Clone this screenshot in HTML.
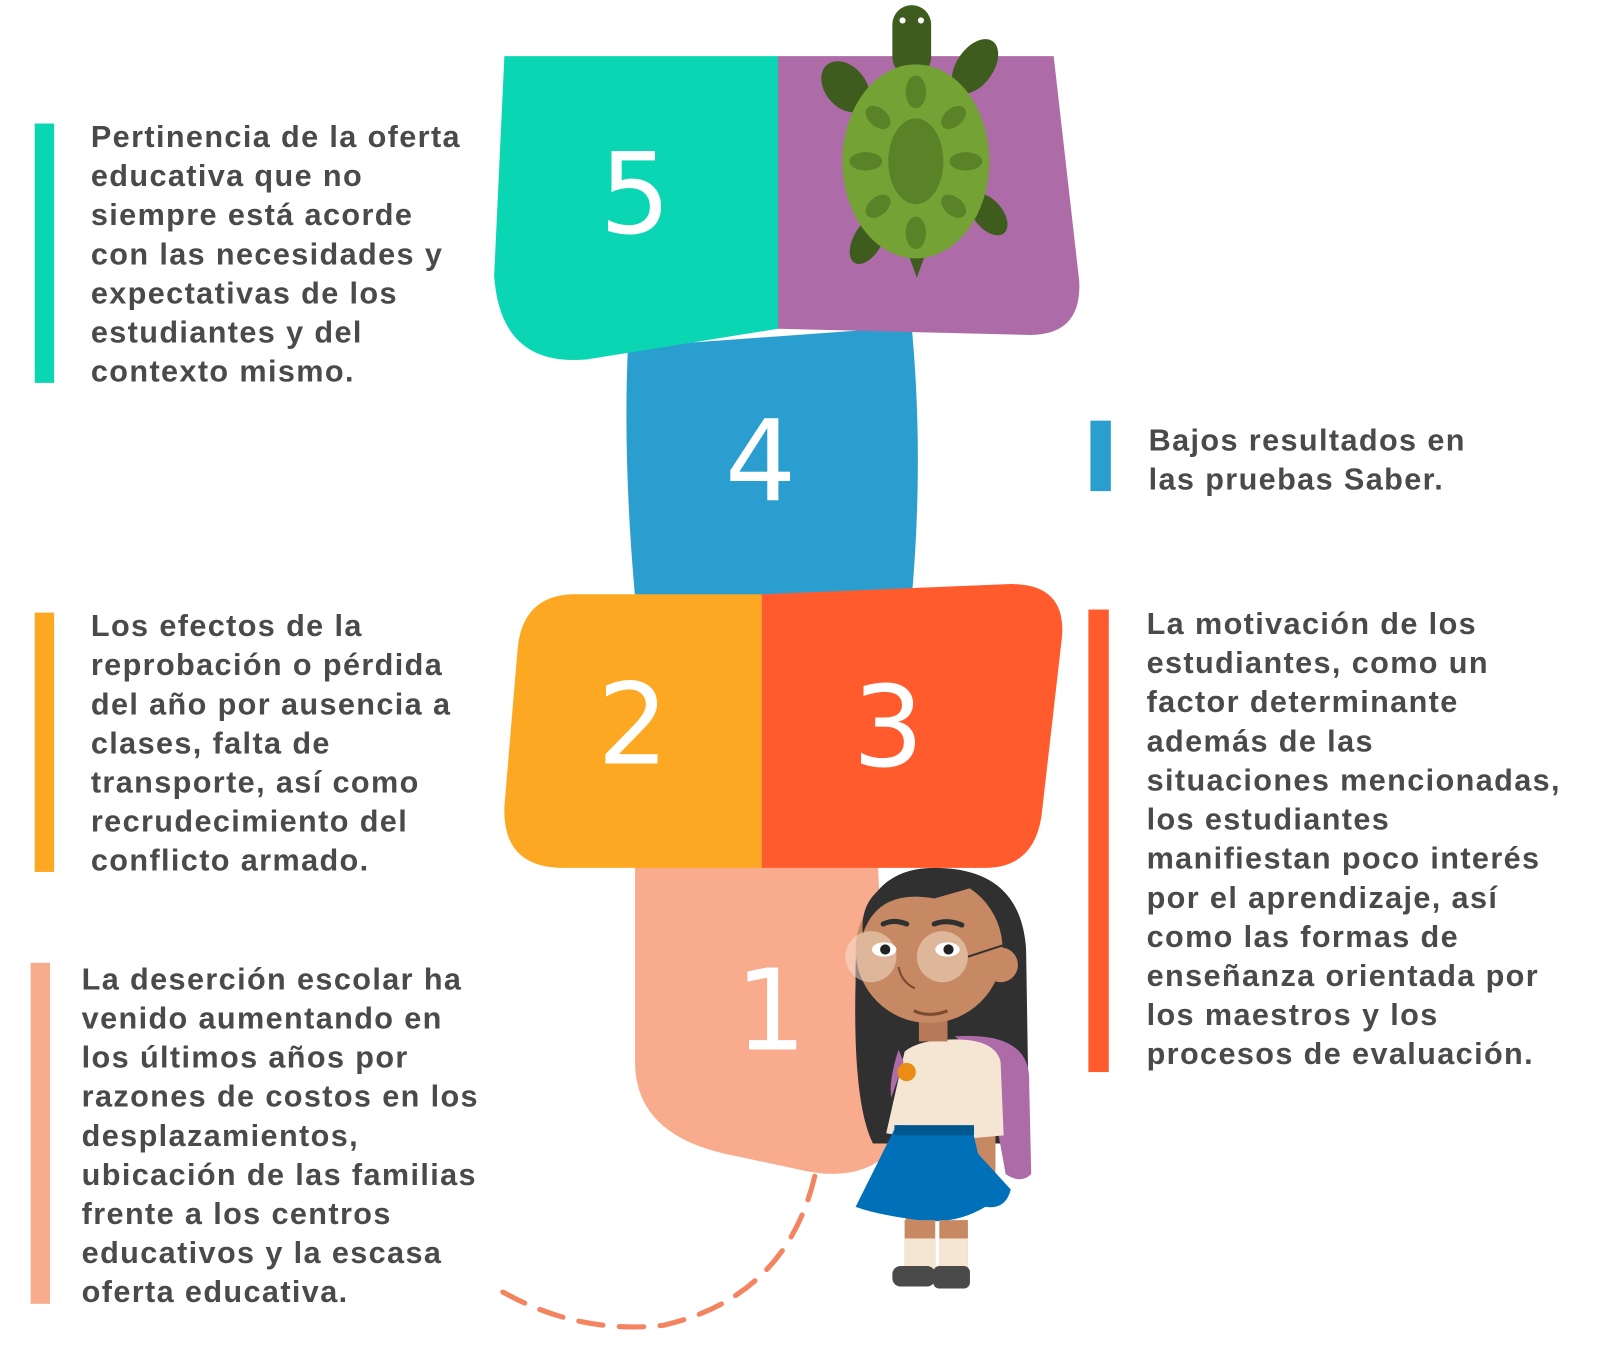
<!DOCTYPE html>
<html><head><meta charset="utf-8"><style>
html,body{margin:0;padding:0;background:#fff;}
svg{display:block}
text{font-family:"Liberation Sans",sans-serif;font-weight:bold;font-size:30px;letter-spacing:1.35px;fill:#4a4a4a;}
.num{font-family:"DejaVu Sans",sans-serif;font-weight:normal;font-size:110px;letter-spacing:0;fill:#fff;}
</style></head><body>
<svg width="1600" height="1347" viewBox="0 0 1600 1347" xmlns="http://www.w3.org/2000/svg">
<g transform="scale(1.021)">
<path d="M615,340 L893,320 Q905,450 893,585 L622,585 Q610,450 615,340Z" fill="#2a9fcf"/>
<path d="M494,55 L762,55 L762,322 L575,352 Q490,360 484,270 Z" fill="#0bd6b4"/>
<path d="M762,55 L1032,55 L1057,275 Q1060,330 1005,328 L762,322 Z" fill="#ad6ca8"/>
<path d="M622,848 L860,848 L872,1128 Q840,1160 780,1145 L710,1130 Q622,1110 622,1040 Z" fill="#f9ab8e"/>
<path d="M746,582 L746,850 L548,850 Q492,848 494,790 L507,635 Q512,584 560,582 Z" fill="#fda823"/>
<path d="M746,582 L990,572 Q1045,572 1040,625 L1020,800 Q1012,850 965,850 L746,850 Z" fill="#ff5b2d"/>
<text class="num" x="622" y="228" text-anchor="middle">5</text>
<text class="num" x="745" y="490" text-anchor="middle">4</text>
<text class="num" x="620" y="748" text-anchor="middle">2</text>
<text class="num" x="870" y="750" text-anchor="middle">3</text>
<text class="num" x="755" y="1028" text-anchor="middle">1</text>
<path d="M798,1152 Q770,1270 650,1298 Q560,1308 480,1258" fill="none" stroke="#f4845f" stroke-width="5" stroke-dasharray="24,16" stroke-linecap="round"/>
<g fill="#3e5c1e">
<rect x="874" y="5" width="38" height="70" rx="19"/>
<ellipse cx="828" cy="85" rx="20" ry="28" transform="rotate(-40 828 85)"/>
<ellipse cx="955" cy="65" rx="18" ry="30" transform="rotate(35 955 65)"/>
<ellipse cx="850" cy="235" rx="14" ry="26" transform="rotate(30 850 235)"/>
<ellipse cx="968" cy="210" rx="14" ry="24" transform="rotate(-40 968 210)"/>
<path d="M890,250 L898,272 L906,250Z"/>
</g>
<circle cx="884" cy="20" r="3" fill="#fff"/><circle cx="902" cy="20" r="3" fill="#fff"/>
<ellipse cx="897" cy="158" rx="72" ry="95" fill="#75a234"/>
<ellipse cx="897" cy="158" rx="27" ry="42" fill="#5a8328"/>
<g fill="#5a8328">
<ellipse cx="897" cy="90" rx="10" ry="16"/><ellipse cx="897" cy="228" rx="10" ry="16"/>
<ellipse cx="848" cy="158" rx="16" ry="9"/><ellipse cx="946" cy="158" rx="16" ry="9"/>
<ellipse cx="860" cy="115" rx="14" ry="9" transform="rotate(40 860 115)"/><ellipse cx="934" cy="115" rx="14" ry="9" transform="rotate(-40 934 115)"/>
<ellipse cx="860" cy="202" rx="14" ry="9" transform="rotate(-40 860 202)"/><ellipse cx="934" cy="202" rx="14" ry="9" transform="rotate(40 934 202)"/>
</g>
<path d="M855,1120 Q835,1080 838,960 Q835,850 915,850 Q1000,850 1005,930 L1008,1120 Z" fill="#303030"/>
<path d="M935,1015 Q1010,1010 1008,1060 L1010,1150 Q1000,1160 985,1150 L965,1040Z" fill="#ad6ca8"/>
<rect x="887" y="1115" width="28" height="100" fill="#c68963"/>
<rect x="945" y="1060" width="30" height="110" rx="12" fill="#c68963"/>
<path d="M886,1030 Q900,1018 935,1018 Q975,1018 980,1040 L983,1112 L950,1115 L950,1130 L880,1130 L882,1112 L868,1110 Z" fill="#f5e6d4"/>
<path d="M880,1028 Q870,1060 873,1075 L885,1040Z" fill="#ad6ca8"/>
<circle cx="888" cy="1050" r="9" fill="#ea8d12"/>
<path d="M878,1102 L952,1105 L958,1130 L990,1165 Q985,1185 965,1182 Q935,1200 900,1195 Q860,1190 838,1182 Z" fill="#0071b9"/>
<rect x="876" y="1102" width="78" height="10" fill="#00578f"/>
<rect x="886" y="1195" width="30" height="60" fill="#c68963"/>
<rect x="920" y="1195" width="28" height="60" fill="#c68963"/>
<rect x="886" y="1213" width="30" height="30" fill="#f5e6d4"/>
<rect x="920" y="1213" width="28" height="30" fill="#f5e6d4"/>
<rect x="874" y="1240" width="42" height="20" rx="8" fill="#4a4a4a"/>
<rect x="914" y="1240" width="36" height="22" rx="6" fill="#4a4a4a"/>
<circle cx="980" cy="945" r="17" fill="#c68963"/>
<rect x="900" y="995" width="28" height="25" fill="#b8785a"/>
<circle cx="910" cy="930" r="72" fill="#c68963"/>
<path d="M845,915 Q860,870 915,880 L950,870 Q990,880 995,920 Q990,860 915,855 Q840,860 845,915Z" fill="#303030"/>
<circle cx="853" cy="937" r="25" fill="#f5e6d4" opacity="0.5"/>
<circle cx="923" cy="937" r="25" fill="#f5e6d4" opacity="0.5"/>
<ellipse cx="866" cy="930" rx="12" ry="7" fill="#fff"/><circle cx="867" cy="930" r="5" fill="#222"/>
<ellipse cx="928" cy="930" rx="12" ry="7" fill="#fff"/><circle cx="929" cy="930" r="5" fill="#222"/>
<path d="M880,947 Q883,962 896,968" stroke="#7a4a33" stroke-width="2" fill="none"/>
<path d="M895,990 Q910,997 928,990" stroke="#7a4a33" stroke-width="3" fill="none"/>
<path d="M948,937 L985,925" stroke="#303030" stroke-width="2"/>
<path d="M865,905 Q875,900 888,905 M915,905 Q928,900 942,906" stroke="#303030" stroke-width="5" fill="none" stroke-linecap="round"/>
<rect x="34" y="121" width="19" height="254" fill="#0bd6b4"/>
<rect x="1068" y="412" width="20" height="69" fill="#2a9fcf"/>
<rect x="34" y="600" width="19" height="254" fill="#fda823"/>
<rect x="1066" y="597" width="20" height="453" fill="#ff5b2d"/>
<rect x="30" y="943" width="19" height="334" fill="#f9ab8e"/>
<text x="89" y="144"><tspan x="89">Pertinencia de la oferta</tspan><tspan x="89" dy="38.3">educativa que no</tspan><tspan x="89" dy="38.3">siempre está acorde</tspan><tspan x="89" dy="38.3">con las necesidades y</tspan><tspan x="89" dy="38.3">expectativas de los</tspan><tspan x="89" dy="38.3">estudiantes y del</tspan><tspan x="89" dy="38.3">contexto mismo.</tspan></text>
<text x="1125" y="441"><tspan x="1125">Bajos resultados en</tspan><tspan x="1125" dy="38.3">las pruebas Saber.</tspan></text>
<text x="89" y="623"><tspan x="89">Los efectos de la</tspan><tspan x="89" dy="38.3">reprobación o pérdida</tspan><tspan x="89" dy="38.3">del año por ausencia a</tspan><tspan x="89" dy="38.3">clases, falta de</tspan><tspan x="89" dy="38.3">transporte, así como</tspan><tspan x="89" dy="38.3">recrudecimiento del</tspan><tspan x="89" dy="38.3">conflicto armado.</tspan></text>
<text x="1123" y="621"><tspan x="1123">La motivación de los</tspan><tspan x="1123" dy="38.3">estudiantes, como un</tspan><tspan x="1123" dy="38.3">factor determinante</tspan><tspan x="1123" dy="38.3">además de las</tspan><tspan x="1123" dy="38.3">situaciones mencionadas,</tspan><tspan x="1123" dy="38.3">los estudiantes</tspan><tspan x="1123" dy="38.3">manifiestan poco interés</tspan><tspan x="1123" dy="38.3">por el aprendizaje, así</tspan><tspan x="1123" dy="38.3">como las formas de</tspan><tspan x="1123" dy="38.3">enseñanza orientada por</tspan><tspan x="1123" dy="38.3">los maestros y los</tspan><tspan x="1123" dy="38.3">procesos de evaluación.</tspan></text>
<text x="80" y="969"><tspan x="80">La deserción escolar ha</tspan><tspan x="80" dy="38.3">venido aumentando en</tspan><tspan x="80" dy="38.3">los últimos años por</tspan><tspan x="80" dy="38.3">razones de costos en los</tspan><tspan x="80" dy="38.3">desplazamientos,</tspan><tspan x="80" dy="38.3">ubicación de las familias</tspan><tspan x="80" dy="38.3">frente a los centros</tspan><tspan x="80" dy="38.3">educativos y la escasa</tspan><tspan x="80" dy="38.3">oferta educativa.</tspan></text>
</g>
</svg>
</body></html>
